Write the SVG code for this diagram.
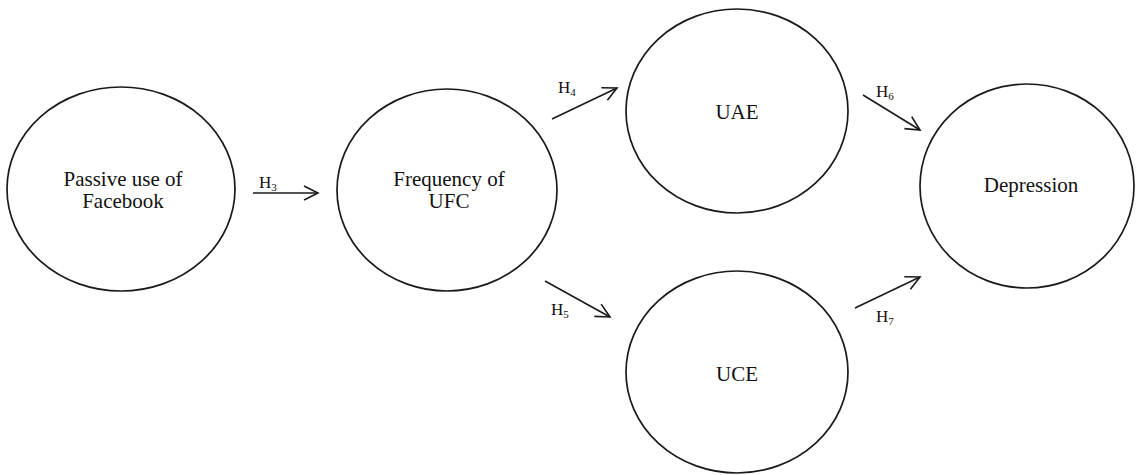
<svg xmlns="http://www.w3.org/2000/svg" width="1137" height="475" viewBox="0 0 1137 475">
<style>
.node{fill:#fff;stroke:#1a1a1a;stroke-width:1.7}
.lbl{font-family:"Liberation Serif","Times New Roman",serif;font-size:21px;fill:#111;text-anchor:middle}
.h{font-family:"Liberation Serif","Times New Roman",serif;font-size:17px;fill:#111}
.sub{font-size:11px}
.edge{stroke:#1a1a1a;stroke-width:1.6;fill:none}
</style>
<defs>
<marker id="arr" markerUnits="userSpaceOnUse" markerWidth="20" markerHeight="20" viewBox="-16 -10 20 20" refX="0" refY="0" orient="auto">
<path d="M-14,-7 L0,0 L-14,7" fill="none" stroke="#1a1a1a" stroke-width="1.6"/>
</marker>
</defs>
<rect width="1137" height="475" fill="#fff"/>
<g id="n-passive">
<ellipse class="node" cx="121" cy="189" rx="114" ry="102"/>
<text class="lbl" x="123" y="186" font-family="Liberation Serif, serif">Passive use of</text>
<text class="lbl" x="123" y="208" font-family="Liberation Serif, serif">Facebook</text>
</g>
<g id="n-ufc">
<ellipse class="node" cx="447" cy="190" rx="110" ry="101"/>
<text class="lbl" x="449" y="186" font-family="Liberation Serif, serif">Frequency of</text>
<text class="lbl" x="449" y="208" font-family="Liberation Serif, serif">UFC</text>
</g>
<g id="n-uae">
<ellipse class="node" cx="737" cy="111" rx="111" ry="102"/>
<text class="lbl" x="737" y="119" font-family="Liberation Serif, serif">UAE</text>
</g>
<g id="n-uce">
<ellipse class="node" cx="737" cy="372" rx="111" ry="101"/>
<text class="lbl" x="737" y="381" font-family="Liberation Serif, serif">UCE</text>
</g>
<g id="n-depression">
<ellipse class="node" cx="1027" cy="186" rx="107" ry="102"/>
<text class="lbl" x="1031" y="192" font-family="Liberation Serif, serif">Depression</text>
</g>
<g id="connectors">
<line class="edge" x1="253" y1="193" x2="318" y2="193" marker-end="url(#arr)"/>
<line class="edge" x1="552" y1="119" x2="617" y2="88" marker-end="url(#arr)"/>
<line class="edge" x1="545" y1="281" x2="610" y2="317" marker-end="url(#arr)"/>
<line class="edge" x1="863" y1="95" x2="920" y2="130" marker-end="url(#arr)"/>
<line class="edge" x1="855" y1="308" x2="920" y2="277" marker-end="url(#arr)"/>
<text class="h" x="259" y="188" font-family="Liberation Serif, serif">H<tspan class="sub" dy="3">3</tspan></text>
<text class="h" x="558" y="93" font-family="Liberation Serif, serif">H<tspan class="sub" dy="3">4</tspan></text>
<text class="h" x="551" y="315" font-family="Liberation Serif, serif">H<tspan class="sub" dy="3">5</tspan></text>
<text class="h" x="876" y="97" font-family="Liberation Serif, serif">H<tspan class="sub" dy="3">6</tspan></text>
<text class="h" x="876" y="322" font-family="Liberation Serif, serif">H<tspan class="sub" dy="3">7</tspan></text>
</g>
</svg>
